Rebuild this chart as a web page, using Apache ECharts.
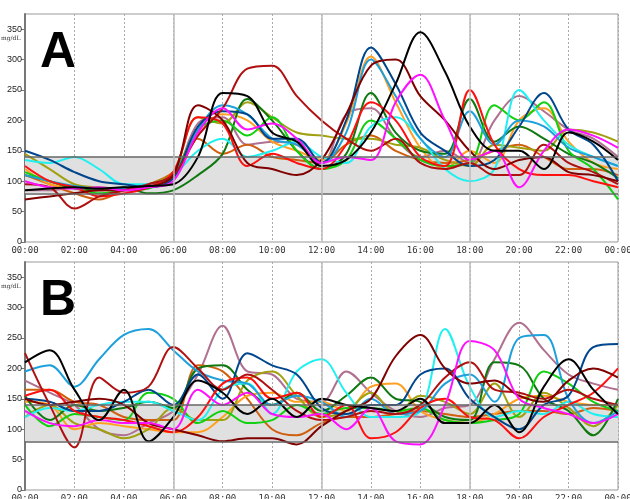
<!DOCTYPE html>
<html>
<head>
<meta charset="utf-8">
<script src="https://cdn.jsdelivr.net/npm/echarts@6/dist/echarts.min.js"></script>
<style>html,body{margin:0;padding:0;background:#fff}#c{width:630px;height:499px}</style>
</head>
<body>
<div id="c"></div>
<script>
// hourly glucose readings, 00:00 .. 24:00 (mg/dL)
var hours = [];
for (var h = 0; h <= 24; h++) hours.push(h);

var colors = {
  black: '#000000', darkred: '#800000', brick: '#b01010', red: '#ff1010',
  navy: '#00468c', sky: '#1ea0dc', cyan: '#20f0f0', magenta: '#ff10ff',
  lime: '#10d010', dkgreen: '#107810', olive: '#a0a010', orange: '#ffa020',
  dkorange: '#d06010', mauve: '#b07090'
};

// panel A
var aBlack    = [85,88,90,88,90,92,95,140,245,240,180,165,125,135,180,260,345,280,190,150,150,120,180,165,135];
var aDarkred  = [70,75,80,85,85,90,110,225,200,130,120,110,135,210,290,300,240,200,150,120,135,140,115,110,100];
var aBrick    = [95,90,55,75,85,95,110,175,220,285,290,240,200,170,150,170,130,120,130,110,110,160,130,115,95];
var aRed      = [125,100,90,75,80,90,115,205,195,125,145,130,120,160,230,200,140,125,250,160,120,110,110,100,90];
var aNavy     = [150,135,115,100,95,90,105,190,215,210,170,170,130,200,320,260,180,150,125,135,190,245,185,160,100];
var aSky      = [110,100,92,88,88,95,110,185,225,210,170,160,130,180,300,240,170,140,215,160,200,190,155,140,125];
var aCyan     = [135,130,140,120,95,95,110,150,170,140,150,165,140,130,190,205,170,120,100,120,250,200,160,140,125];
var aMagenta  = [100,90,88,90,85,90,100,180,220,185,195,170,130,140,135,230,275,200,135,150,90,150,185,175,155];
var aLime     = [115,100,90,80,85,88,110,185,200,175,205,150,120,135,200,170,135,125,130,225,200,230,150,120,70];
var aDkgreen  = [110,100,88,85,90,80,85,110,145,235,200,150,120,145,245,180,150,145,235,165,190,170,145,130,105];
var aOlive    = [145,120,95,90,88,95,115,205,195,230,205,180,175,170,170,160,155,135,125,160,155,150,185,180,165];
var aOrange   = [120,95,90,85,85,95,110,175,210,200,165,150,135,195,305,230,155,120,150,130,200,220,165,130,120];
var aDkorange = [110,95,80,70,85,95,115,170,145,160,140,135,130,160,175,150,135,130,135,150,160,140,120,120,110];
var aMauve    = [85,85,90,88,85,90,105,195,205,160,165,160,130,210,220,170,140,150,130,200,240,215,185,170,140];

// panel B
var bSky      = [195,205,170,215,255,265,230,195,180,175,140,155,145,120,150,125,130,175,190,145,250,255,150,110,130];
var bMauve    = [180,160,140,100,90,110,130,190,270,195,190,150,145,195,160,130,120,135,140,215,275,230,190,175,165];
var bBlack    = [210,230,165,115,165,80,120,180,160,125,150,120,150,140,135,130,150,110,110,140,95,170,215,165,125];
var bDarkred  = [150,140,145,150,140,110,100,90,80,85,85,75,105,130,150,220,255,200,175,180,155,145,180,200,185];
var bBrick    = [225,140,70,185,160,170,235,200,165,190,165,130,115,120,130,125,140,185,210,165,160,150,165,150,140];
var bRed      = [155,165,130,120,115,105,95,120,175,185,150,160,120,140,85,95,135,150,120,115,85,120,140,160,200];
var bNavy     = [150,145,130,130,145,165,140,190,150,225,205,190,135,125,140,140,190,200,150,120,100,140,155,235,240];
var bCyan     = [120,135,130,140,145,145,130,115,165,175,125,195,215,160,120,120,130,265,170,120,130,125,145,125,120];
var bMagenta  = [130,110,105,115,110,110,100,165,140,160,125,120,125,100,135,80,75,140,245,230,150,135,125,110,125];
var bLime     = [140,105,125,120,115,160,150,110,130,110,115,140,125,135,135,130,135,115,110,115,125,195,175,145,130];
var bDkgreen  = [155,115,140,130,135,145,135,200,205,165,140,160,130,155,185,150,145,120,115,210,205,150,130,90,150];
var bOlive    = [120,140,110,100,85,100,135,115,115,180,195,155,120,130,160,125,155,145,125,175,120,160,135,105,140];
var bOrange   = [145,140,100,110,105,100,95,95,120,155,160,145,145,130,170,175,130,115,110,125,150,155,145,140,140];
var bDkorange = [165,165,145,140,120,115,115,205,195,150,100,90,110,120,120,125,130,125,120,125,130,130,125,135,130];

var panelA = [
  ['mauve', aMauve], ['dkorange', aDkorange], ['orange', aOrange], ['olive', aOlive],
  ['dkgreen', aDkgreen], ['lime', aLime], ['cyan', aCyan], ['sky', aSky],
  ['navy', aNavy], ['red', aRed], ['brick', aBrick], ['darkred', aDarkred],
  ['magenta', aMagenta], ['black', aBlack]
];
var panelB = [
  ['mauve', bMauve], ['dkorange', bDkorange], ['orange', bOrange], ['olive', bOlive],
  ['dkgreen', bDkgreen], ['lime', bLime], ['cyan', bCyan], ['sky', bSky],
  ['navy', bNavy], ['red', bRed], ['brick', bBrick], ['darkred', bDarkred],
  ['magenta', bMagenta], ['black', bBlack]
];

var yTicks = [0, 50, 100, 150, 200, 250, 300, 350];
var targetLow = 80, targetHigh = 140;

function hhmm(v) {
  var h = v % 24;
  return (h < 10 ? '0' : '') + h + ':00';
}

var myChart = echarts.init(document.getElementById('c'));

var grids = [
  { left: 25, right: 12, top: 14, height: 228, show: true, borderColor: '#999', borderWidth: 1, outerBoundsMode: 'none' },
  { left: 25, right: 12, top: 262, height: 228, show: true, borderColor: '#999', borderWidth: 1, outerBoundsMode: 'none' }
];

function xAx(i) {
  return {
    gridIndex: i, type: 'value', min: 0, max: 24, interval: 2,
    axisLine: { show: false },
    axisTick: { show: false },
    axisLabel: { formatter: hhmm, fontSize: 9, color: '#333', margin: 4, fontFamily: 'DejaVu Sans Mono' },
    splitLine: { show: true, lineStyle: { color: '#aaa', type: [2, 2], width: 1 } }
  };
}
function yAx(i) {
  return {
    gridIndex: i, type: 'value', min: 0, max: 375, interval: 50,
    axisLine: { show: true, lineStyle: { color: '#777', width: 2 } },
    axisTick: { show: true, length: 4, lineStyle: { color: '#777' } },
    axisLabel: { fontSize: 9, color: '#222', margin: 3, showMaxLabel: false,
      formatter: function (v) { return yTicks.indexOf(v) >= 0 ? v : ''; } },
    splitLine: { show: false }
  };
}

var series = [];
[panelA, panelB].forEach(function (panel, gi) {
  // target band + solid 6h lines
  series.push({
    type: 'line', xAxisIndex: gi, yAxisIndex: gi, data: [], silent: true,
    markArea: { silent: true, itemStyle: { color: '#e0e0e0' }, data: [[{ yAxis: targetLow }, { yAxis: targetHigh }]] },
    markLine: {
      silent: true, symbol: 'none', label: { show: false },
      data: [
        { yAxis: targetLow, lineStyle: { color: '#666', width: 1.5, type: 'solid' } },
        { yAxis: targetHigh, lineStyle: { color: '#666', width: 1.5, type: 'solid' } },
        { xAxis: 6, lineStyle: { color: '#bbb', width: 1.5, type: 'solid' } },
        { xAxis: 12, lineStyle: { color: '#bbb', width: 1.5, type: 'solid' } },
        { xAxis: 18, lineStyle: { color: '#bbb', width: 1.5, type: 'solid' } }
      ]
    }
  });
  panel.forEach(function (p) {
    series.push({
      type: 'line', xAxisIndex: gi, yAxisIndex: gi, smooth: 0.35, showSymbol: false,
      lineStyle: { width: 2, color: colors[p[0]] }, itemStyle: { color: colors[p[0]] },
      data: hours.map(function (hr, k) { return [hr, p[1][k]]; })
    });
  });
});

var option = {
  animation: false,
  grid: grids,
  xAxis: [xAx(0), xAx(1)],
  yAxis: [yAx(0), yAx(1)],
  series: series,
  graphic: [
    { type: 'text', left: 40, top: 28, style: { text: 'A', font: 'bold 50px Liberation Sans', fill: '#000' } },
    { type: 'text', left: 40, top: 276, style: { text: 'B', font: 'bold 50px Liberation Sans', fill: '#000' } },
    { type: 'text', left: 1, top: 35, style: { text: 'mg/dL', font: '6px DejaVu Serif', fill: '#333' } },
    { type: 'text', left: 1, top: 283, style: { text: 'mg/dL', font: '6px DejaVu Serif', fill: '#333' } }
  ]
};

option && myChart.setOption(option);
</script>
</body>
</html>
